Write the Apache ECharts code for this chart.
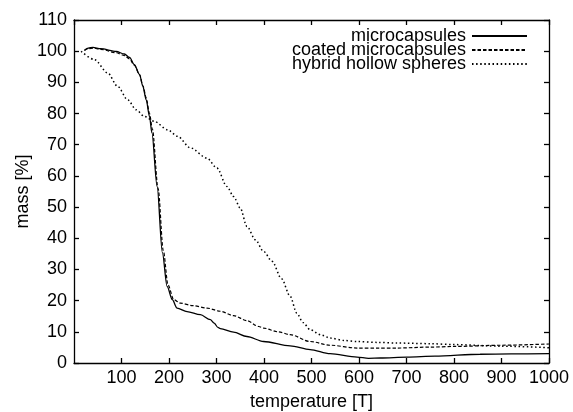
<!DOCTYPE html>
<html>
<head>
<meta charset="utf-8">
<script src="https://cdn.jsdelivr.net/npm/echarts@6/dist/echarts.min.js"></script>
<style>
html,body{margin:0;padding:0;background:#fff;}
#chart{width:573px;height:412px;}
</style>
</head>
<body>
<div id="chart"></div>
<script>
// Series names
var seriesNames = ['microcapsules', 'coated microcapsules', 'hybrid hollow spheres'];

// microcapsules (solid)
var microT = [22,30,40,56,89,106,117,127,138,145,152,159,164,175,186,196,207,217,238,266,287,295,303,308,336,364,399,455,497,539,596,620,645,701,760,855,920,1000];
var microM = [100.3,101.0,101.2,100.8,99.9,99.1,98.0,95.7,92.5,88.7,84.4,79.0,73.8,56.6,35.4,24.6,20.3,17.6,16.5,15.5,13.9,12.8,11.4,11.0,9.9,8.5,6.9,5.5,4.3,3.0,1.9,1.5,1.6,1.9,2.2,2.8,2.9,3.0];

// coated microcapsules (dashed)
var coatedT = [22,30,40,56,89,106,117,127,138,145,152,159,165,177,188,198,210,224,250,280,308,336,364,389,399,430,455,497,539,596,640,680,750,800,900,1000];
var coatedM = [100.2,100.8,101.0,100.6,99.5,98.6,97.5,95.5,92.5,89.0,85.0,80.0,75.0,56.0,36.0,25.0,20.3,19.2,18.4,17.6,16.6,15.2,13.6,11.7,11.2,10.0,9.1,6.9,5.7,4.8,4.8,4.8,5.1,5.3,5.7,6.1];

// hybrid hollow spheres (dotted)
var hybridT = [15,43,71,92,113,131,148,169,197,218,245,280,301,322,336,350,364,382,399,417,437,455,469,482,497,520,539,570,596,640,680,750,800,900,1000];
var hybridM = [100.0,97.3,93.0,88.7,84.4,81.2,79.1,77.5,74.8,72.7,69.0,65.7,62.5,56.6,53.4,49.7,43.8,39.5,35.8,32.6,27.0,21.4,16.0,13.0,10.7,9.0,8.0,7.2,6.9,6.6,6.4,6.2,5.9,5.4,4.9];

// axis ticks
var xMin = 0, xMax = 1000, xStep = 100;
var yMin = 0, yMax = 110, yStep = 10;

function pairs(xs, ys) {
  var out = [];
  for (var i = 0; i < xs.length; i++) out.push([xs[i], ys[i]]);
  return out;
}

var FONT = 'Liberation Sans, Arial, Helvetica, sans-serif';
var FS = 18;

var chart = echarts.init(document.getElementById('chart'), null, {renderer: 'canvas'});

function legendFor(name, top) {
  return {
    data: [name],
    orient: 'vertical',
    align: 'right',
    right: 45,
    top: top,
    itemWidth: 55,
    itemHeight: 14,
    itemGap: 0,
    padding: 0,
    selectedMode: false,
    itemStyle: {opacity: 0},
    textStyle: {fontFamily: FONT, fontSize: FS, color: '#000', padding: [0, 1, 0, 0]}
  };
}

function axisCommon() {
  return {
    axisLine: {show: true, onZero: false, lineStyle: {color: '#000', width: 1.3}},
    axisTick: {show: true, inside: true, length: 5, lineStyle: {color: '#000', width: 1.3}},
    splitLine: {show: false}
  };
}

var xBottom = Object.assign(axisCommon(), {
  type: 'value', position: 'bottom', min: xMin, max: xMax, interval: xStep,
  name: 'temperature [T]', nameLocation: 'middle', nameGap: 30, nameMoveOverlap: false,
  nameTextStyle: {fontFamily: FONT, fontSize: FS, color: '#000'},
  axisLabel: {show: true, showMinLabel: false, margin: 6, fontFamily: FONT, fontSize: FS, color: '#000',
    formatter: function (v) { return v === 0 ? '' : String(v); }}
});
var xTop = Object.assign(axisCommon(), {
  type: 'value', position: 'top', min: xMin, max: xMax, interval: xStep,
  axisLabel: {show: false}
});
var yLeft = Object.assign(axisCommon(), {
  type: 'value', position: 'left', min: yMin, max: yMax, interval: yStep,
  name: 'mass [%]', nameLocation: 'middle', nameGap: 42, nameRotate: 90, nameMoveOverlap: false,
  nameTextStyle: {fontFamily: FONT, fontSize: FS, color: '#000'},
  axisLabel: {show: true, margin: 7, fontFamily: FONT, fontSize: FS, color: '#000'}
});
var yRight = Object.assign(axisCommon(), {
  type: 'value', position: 'right', min: yMin, max: yMax, interval: yStep,
  axisLabel: {show: false}
});

chart.setOption({
  animation: false,
  backgroundColor: '#fff',
  grid: {left: 74, right: 24, top: 20, bottom: 49, containLabel: false, outerBoundsMode: 'none'},
  legend: [legendFor(seriesNames[0], 27), legendFor(seriesNames[1], 41), legendFor(seriesNames[2], 55)],
  xAxis: [xBottom, xTop],
  yAxis: [yLeft, yRight],
  series: [
    {
      name: seriesNames[0], type: 'line', xAxisIndex: 0, yAxisIndex: 0,
      data: pairs(microT, microM), symbol: 'none', showSymbol: false,
      smooth: 0.3, smoothMonotone: 'x',
      lineStyle: {color: '#000', width: 1.3, type: 'solid'},
      itemStyle: {color: '#000'}
    },
    {
      name: seriesNames[1], type: 'line', xAxisIndex: 0, yAxisIndex: 0,
      data: pairs(coatedT, coatedM), symbol: 'none', showSymbol: false,
      smooth: 0.3, smoothMonotone: 'x',
      lineStyle: {color: '#000', width: 1.2, type: [3.5, 2]},
      itemStyle: {color: '#000'}
    },
    {
      name: seriesNames[2], type: 'line', xAxisIndex: 0, yAxisIndex: 0,
      data: pairs(hybridT, hybridM), symbol: 'none', showSymbol: false,
      smooth: 0.3, smoothMonotone: 'x',
      lineStyle: {color: '#000', width: 1.5, type: [1.5, 2.6]},
      itemStyle: {color: '#000'}
    }
  ]
});
</script>
</body>
</html>
